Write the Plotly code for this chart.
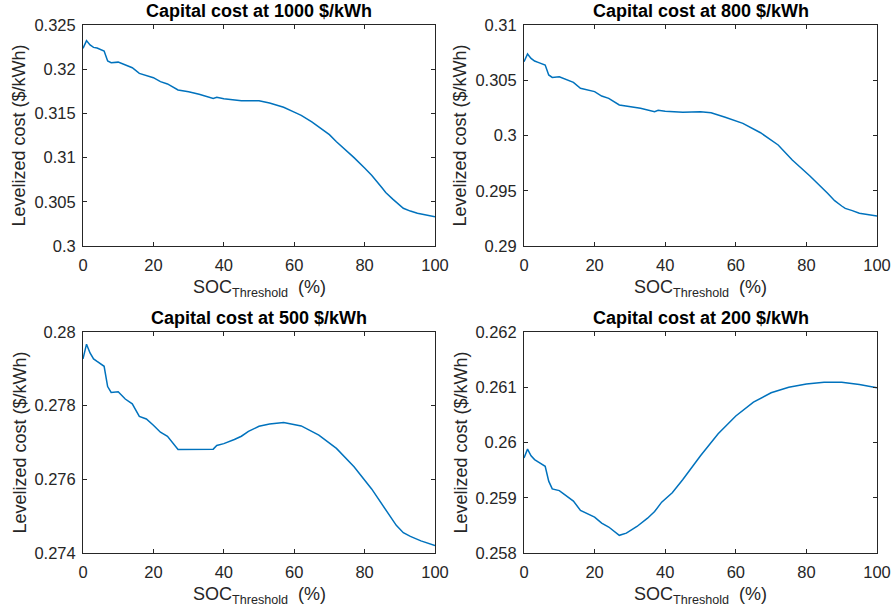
import plotly.graph_objects as go

# ---- data ----
x_1000 = [0, 1, 2, 3, 4, 6, 7, 8, 10, 12, 14, 16, 18, 20, 22, 24, 27, 30, 33, 37, 38, 40, 45, 50, 53, 57, 60, 62, 65, 67, 70, 72, 75, 77, 80, 82, 85, 86, 88, 90, 91, 93, 95, 100]
y_1000 = [0.32236, 0.32323, 0.32274, 0.32247, 0.3224, 0.32206, 0.32093, 0.32074, 0.3208, 0.32047, 0.32017, 0.31953, 0.3193, 0.31904,
          0.31859, 0.31833, 0.31765, 0.31746, 0.31716, 0.3167, 0.31682, 0.31667, 0.31644, 0.31644, 0.31618, 0.31569, 0.31515,
          0.31478, 0.31405, 0.3135, 0.3126, 0.3118, 0.31077, 0.3100, 0.30882, 0.3080, 0.30657, 0.30605, 0.3053, 0.30464,
          0.30427, 0.30395, 0.3037, 0.30332]

x_800 = [0, 1, 2, 3, 4, 6, 7, 8, 10, 12, 14, 16, 18, 20, 22, 24, 27, 30, 33, 37, 38, 40, 45, 50, 53, 57, 62, 67, 72, 76, 81, 86, 88, 90, 91, 93, 95, 100]
y_800 = [0.30668, 0.30738, 0.30698, 0.30674, 0.30662, 0.30638, 0.30548, 0.30526, 0.30532, 0.30508, 0.30481, 0.30427, 0.30412, 0.30397,
         0.30357, 0.30336, 0.30276, 0.30261, 0.30246, 0.30216, 0.30228, 0.30219, 0.3021, 0.30216, 0.30206, 0.30165, 0.3011,
         0.30025, 0.29914, 0.29778, 0.29633, 0.29477, 0.2941, 0.29362, 0.2934, 0.2932, 0.29296, 0.29271]

x_500 = [0, 1, 2, 3, 4, 6, 7, 8, 10, 12, 14, 16, 18, 19, 20, 22, 24, 27, 30, 33, 35, 37, 38, 40, 43, 45, 47, 50, 53, 57, 62, 67, 72, 77, 82, 86, 89, 91, 93, 96, 100]
y_500 = [0.27927, 0.27967, 0.27943, 0.27927, 0.2792, 0.27907, 0.27852, 0.27836, 0.27838, 0.27818, 0.27805, 0.27771, 0.27764, 0.27756,
         0.27747, 0.27728, 0.27717, 0.27681, 0.27681, 0.27681, 0.27682, 0.27682, 0.27692, 0.27697, 0.27708, 0.27717, 0.2773,
         0.27744, 0.2775, 0.27754, 0.27745, 0.2772, 0.27684, 0.27634, 0.27574, 0.27517, 0.27475, 0.27455, 0.27445, 0.27433,
         0.2742]

x_200 = [0, 1, 2, 3, 4, 6, 7, 8, 10, 12, 14, 16, 18, 20, 22, 24, 27, 29, 32, 35, 37, 39, 42, 45, 50, 55, 60, 65, 70, 75, 80, 85, 90, 95, 100]
y_200 = [0.25972, 0.25988, 0.25976, 0.25969, 0.25965, 0.25957, 0.2593, 0.25916, 0.25913, 0.25903, 0.25894, 0.25877, 0.25871, 0.25865,
         0.25854, 0.25847, 0.25832, 0.25836, 0.25848, 0.25863, 0.25875, 0.25892, 0.25909, 0.25933, 0.25976, 0.26016, 0.26048,
         0.26073, 0.2609, 0.261, 0.26106, 0.26109, 0.26109, 0.26105, 0.26099]

titles = ["Capital cost at 1000 $/kWh", "Capital cost at 800 $/kWh",
          "Capital cost at 500 $/kWh", "Capital cost at 200 $/kWh"]
x_ticks = [0, 20, 40, 60, 80, 100]
y_ticks_1000 = [0.3, 0.305, 0.31, 0.315, 0.32, 0.325]
y_ticks_800 = [0.29, 0.295, 0.3, 0.305, 0.31]
y_ticks_500 = [0.274, 0.276, 0.278, 0.28]
y_ticks_200 = [0.258, 0.259, 0.26, 0.261, 0.262]
y_tick_text_1000 = ["0.3", "0.305", "0.31", "0.315", "0.32", "0.325"]
y_tick_text_800 = ["0.29", "0.295", "0.3", "0.305", "0.31"]
y_tick_text_500 = ["0.274", "0.276", "0.278", "0.28"]
y_tick_text_200 = ["0.258", "0.259", "0.26", "0.261", "0.262"]

# ---- layout ----
W, H = 892, 611
FONT = "Liberation Sans, Arial, Helvetica, sans-serif"
AX = "#262626"
LINE = "#0072BD"

def px_x(p):
    return p / W

def px_y(p):
    return 1 - p / H

cols = [(83, 435), (524, 877)]
rows = [(25, 246), (332, 553)]

panels = [
    (x_1000, y_1000, y_ticks_1000, y_tick_text_1000, 0, 0),
    (x_800, y_800, y_ticks_800, y_tick_text_800, 0, 1),
    (x_500, y_500, y_ticks_500, y_tick_text_500, 1, 0),
    (x_200, y_200, y_ticks_200, y_tick_text_200, 1, 1),
]

fig = go.Figure()
annotations = []
for i, (xs, ys, yt, ytt, r, c) in enumerate(panels):
    n = "" if i == 0 else str(i + 1)
    fig.add_trace(go.Scatter(x=xs, y=ys, mode="lines",
                             line=dict(color=LINE, width=1.5),
                             xaxis="x" + n, yaxis="y" + n, showlegend=False))
    x0, x1 = cols[c]
    y0, y1 = rows[r]
    common = dict(showline=True, linecolor=AX, linewidth=1, mirror="ticks",
                  ticks="inside", ticklen=4, tickcolor=AX, tickwidth=1,
                  showgrid=False, zeroline=False, automargin=False,
                  tickfont=dict(family=FONT, size=16.5, color=AX))
    fig.update_layout({
        "xaxis" + n: dict(domain=[px_x(x0), px_x(x1)], anchor="y" + n,
                          range=[0, 100], tickvals=x_ticks, ticklabelstandoff=4, **common),
        "yaxis" + n: dict(domain=[px_y(y1), px_y(y0)], anchor="x" + n,
                          range=[yt[0], yt[-1]], tickvals=yt, ticktext=ytt, ticklabelstandoff=3, **common),
    })
    cx = px_x((x0 + x1) / 2)
    # subplot title
    annotations.append(dict(text="<b>" + titles[i] + "</b>", x=cx, y=px_y(y0 - 2),
                            xref="paper", yref="paper", xanchor="center", yanchor="bottom",
                            showarrow=False, font=dict(family=FONT, size=18, color="#000000")))
    # x axis title
    annotations.append(dict(text="SOC<sub>Threshold</sub>\u00a0 (%)", x=cx, y=px_y(y1 + 29),
                            xref="paper", yref="paper", xanchor="center", yanchor="top",
                            showarrow=False, font=dict(family=FONT, size=18, color=AX)))
    # y axis title
    annotations.append(dict(text="Levelized cost ($/kWh)", x=px_x(x0 - 64), y=(px_y(y0) + px_y(y1)) / 2,
                            xref="paper", yref="paper", xanchor="center", yanchor="middle",
                            textangle=-90, showarrow=False, font=dict(family=FONT, size=18, color=AX)))

fig.update_layout(width=W, height=H, margin=dict(l=0, r=0, t=0, b=0),
                  paper_bgcolor="white", plot_bgcolor="white",
                  annotations=annotations, font=dict(family=FONT))

fig.write_html("out.html", config={"displayModeBar": False},
               post_script="document.body.style.margin='0';")
